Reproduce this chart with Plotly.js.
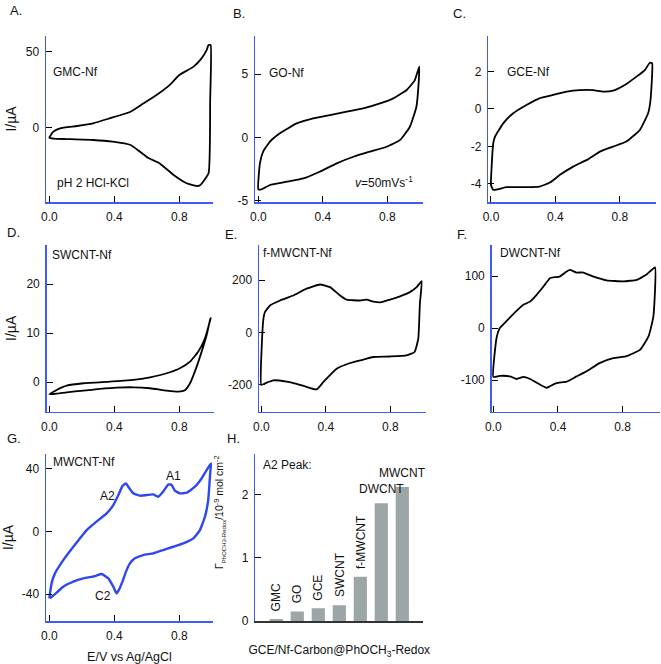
<!DOCTYPE html>
<html>
<head>
<meta charset="utf-8">
<script src="https://cdn.plot.ly/plotly-3.0.1.min.js"></script>
<style>html,body{margin:0;padding:0;background:#fff;}#chart{width:661px;height:664px;}</style>
</head>
<body>
<div id="chart"></div>
<script>
// ---------------- data ----------------
// A. GMC-Nf
const gmcE = [0, 0.025, 0.066, 0.17, 0.27, 0.37, 0.5, 0.58, 0.66, 0.74, 0.80, 0.886, 0.937, 0.968, 0.98, 0.993, 0.99, 0.98, 0.93, 0.907, 0.845, 0.763, 0.68, 0.61, 0.558, 0.5, 0.39, 0.27, 0.107, 0.025, 0];
const gmcI = [-6.6, -2.6, -0.4, 1.1, 2.9, 6.1, 10.5, 16, 21.5, 28, 34.6, 40, 45.6, 51, 54.4, 54.4, 18, -30, -37.7, -38.4, -36.6, -31, -23.5, -20, -15.8, -11.4, -9.2, -8.1, -7.5, -7.2, -6.6];
// B. GO-Nf
const goE = [0, 0.01, 0.03, 0.072, 0.134, 0.238, 0.34, 0.444, 0.548, 0.651, 0.755, 0.837, 0.92, 0.97, 0.998, 0.994, 0.98, 0.94, 0.88, 0.796, 0.69, 0.59, 0.486, 0.38, 0.28, 0.176, 0.072, 0.02, 0];
const goI = [-4.1, -2.05, -1.13, -0.34, 0.32, 1.1, 1.5, 1.76, 2.03, 2.29, 2.68, 3.08, 3.74, 4.5, 5.58, 4.26, 2.4, 0.84, -0.2, -0.74, -1.13, -1.53, -2.05, -2.71, -3.24, -3.5, -3.76, -4.1, -4.1];
// C. GCE-Nf
const gceE = [0, 0.014, 0.097, 0.22, 0.30, 0.366, 0.428, 0.51, 0.595, 0.676, 0.758, 0.84, 0.924, 0.975, 0.99, 1.0, 0.986, 0.955, 0.903, 0.83, 0.758, 0.696, 0.634, 0.55, 0.47, 0.386, 0.30, 0.22, 0.138, 0.076, 0.025, 0.014, 0.004, 0];
const gceI = [-4.06, -4.32, -4.18, -4.18, -4.15, -3.93, -3.52, -3.08, -2.72, -2.28, -2.01, -1.74, -1.12, -0.23, 0.48, 2.44, 2.47, 2.08, 1.73, 1.28, 0.98, 0.93, 1.01, 1.01, 0.93, 0.75, 0.57, 0.21, -0.23, -0.77, -1.48, -1.83, -3.08, -4.06];
// D. SWCNT-Nf
const swE = [0, 0.045, 0.107, 0.21, 0.373, 0.517, 0.62, 0.722, 0.804, 0.866, 0.917, 0.958, 0.993, 0.989, 0.968, 0.938, 0.907, 0.866, 0.835, 0.794, 0.722, 0.62, 0.517, 0.414, 0.31, 0.21, 0.107, 0];
const swI = [-2.45, -1.56, -0.68, -0.2, 0.14, 0.48, 1.02, 1.84, 2.86, 4.2, 6.26, 8.98, 13.06, 12.7, 9.6, 6.3, 3.2, -0.2, -1.6, -1.9, -1.7, -1.22, -1.02, -1.09, -1.36, -1.7, -2.04, -2.45];
// E. f-MWCNT-Nf
const fmwE = [0, 0.012, 0.023, 0.054, 0.116, 0.198, 0.28, 0.364, 0.426, 0.488, 0.529, 0.612, 0.653, 0.694, 0.736, 0.798, 0.86, 0.921, 0.963, 0.994, 0.983, 0.973, 0.95, 0.9, 0.798, 0.694, 0.612, 0.55, 0.467, 0.384, 0.343, 0.28, 0.219, 0.157, 0.074, 0.033, 0];
const fmwI = [-201, 46, 78, 103, 122, 141, 167, 183, 173, 141, 125, 122, 125, 118, 115, 125, 138, 154, 173, 196, 110, -24, -75, -88, -92, -94, -107, -117, -139, -190, -218, -208, -197, -188, -183, -192, -201];
// F. DWCNT-Nf
const dwE = [0, 0.02, 0.04, 0.08, 0.14, 0.186, 0.227, 0.268, 0.31, 0.35, 0.38, 0.41, 0.454, 0.474, 0.515, 0.557, 0.62, 0.7, 0.804, 0.887, 0.948, 1.0, 0.99, 0.96, 0.907, 0.825, 0.742, 0.66, 0.577, 0.515, 0.454, 0.39, 0.35, 0.33, 0.29, 0.227, 0.186, 0.144, 0.103, 0.04, 0];
const dwI = [-94, -19, 0, 13, 32, 45, 51, 64, 80, 96, 98, 99, 109, 112, 107, 107, 99, 92, 90, 93, 103, 117, 22, -16, -42, -54, -58, -67, -83, -93, -103, -106, -112, -115, -109, -98, -94, -98, -93, -92, -94];
// G. MWCNT-Nf
const mwE = [0, 0.014, 0.035, 0.086, 0.148, 0.23, 0.29, 0.353, 0.394, 0.425, 0.45, 0.472, 0.486, 0.517, 0.558, 0.6, 0.64, 0.67, 0.70, 0.733, 0.753, 0.773, 0.804, 0.845, 0.896, 0.937, 0.968, 0.995, 0.99, 0.978, 0.958, 0.927, 0.886, 0.825, 0.763, 0.70, 0.64, 0.578, 0.527, 0.496, 0.472, 0.45, 0.43, 0.414, 0.394, 0.363, 0.322, 0.281, 0.209, 0.148, 0.086, 0.035, 0.004];
const mwI = [-42.8, -33.2, -26.8, -18.3, -9.8, 0.85, 6.2, 11.5, 16.8, 23.2, 28.9, 30.6, 28.5, 24.3, 22.8, 23.2, 23.6, 22.1, 25.3, 30, 29.6, 26, 24.3, 24.7, 28.5, 33.8, 39.1, 43.4, 37, 20, 9.4, 0.85, -4.5, -7.7, -9.8, -11.9, -14, -15.1, -17.2, -20.4, -25.7, -32.1, -37, -39.5, -35.3, -30, -27.2, -28.5, -30, -32.1, -35.3, -40, -42.8];
// H. A2 peak surface coverage
const carbons = ['GMC', 'GO', 'GCE', 'SWCNT', 'f-MWCNT', 'DWCNT', 'MWCNT'];
const a2Coverage = [0.03, 0.15, 0.2, 0.25, 0.7, 1.86, 2.12];
// tick values
const xTicks = [0, 0.4, 0.8];
const yTicksA = [0, 50];
const yTicksB = [-5, 0, 5];
const yTicksC = [-4, -2, 0, 2];
const yTicksD = [0, 10, 20];
const yTicksE = [-200, 0, 200];
const yTicksF = [-100, 0, 100];
const yTicksG = [-40, 0, 40];
const yTicksH = [0, 1, 2];

// ---------------- layout helpers ----------------
const W = 661, H = 664;
const BLUE = '#3d5cf5';
const FONT = 'Liberation Sans, Arial, sans-serif';
const px = x => x / W;
const py = y => 1 - y / H;

const panels = [
  {n: '',  xd: [46, 213],    yd: [36, 202],    xr: [-0.0203, 1.0074], yr: [-48.9, 60.3], yt: yTicksA, E: gmcE, I: gmcI},
  {n: '2', xd: [255, 423.3], yd: [36, 202],    xr: [-0.0205, 1.023],  yr: [-5.1, 8.0],   yt: yTicksB, E: goE, I: goI},
  {n: '3', xd: [488.3, 656], yd: [36, 202],    xr: [-0.0167, 1.024],  yr: [-4.97, 3.9],  yt: yTicksC, E: gceE, I: gceI},
  {n: '4', xd: [46.7, 214],  yd: [245, 411.7], xr: [-0.016, 1.0135],  yr: [-6.0, 28.0],  yt: yTicksD, E: swE, I: swI},
  {n: '5', xd: [259, 425.7], yd: [245, 411.7], xr: [-0.0143, 1.019],  yr: [-303, 334],   yt: yTicksE, E: fmwE, I: fmwI},
  {n: '6', xd: [491.7, 660], yd: [245, 411.7], xr: [-0.01, 1.031],    yr: [-161, 160],   yt: yTicksF, E: dwE, I: dwI},
  {n: '7', xd: [46, 213],    yd: [454, 621],   xr: [-0.0203, 1.0074], yr: [-57.2, 49.4], yt: yTicksG, E: mwE, I: mwI},
];

const layout = {
  width: W, height: H,
  margin: {l: 0, r: 0, t: 0, b: 0},
  paper_bgcolor: '#fff', plot_bgcolor: 'rgba(0,0,0,0)',
  showlegend: false,
  font: {family: FONT, size: 12, color: '#111'},
  annotations: []
};

const baseAxis = {
  showgrid: false, zeroline: false, showline: true, linecolor: BLUE, linewidth: 1.5,
  ticks: 'inside', ticklen: 6, tickwidth: 1, tickcolor: '#000',
  tickfont: {family: FONT, size: 12, color: '#111'}, fixedrange: true
};

const traces = [];
panels.forEach((p, k) => {
  const xa = 'xaxis' + p.n, ya = 'yaxis' + p.n;
  layout[xa] = Object.assign({}, baseAxis, {
    domain: [px(p.xd[0]), px(p.xd[1])], range: p.xr, anchor: 'y' + p.n,
    tickmode: 'array', tickvals: xTicks, ticktext: xTicks.map(v => v.toFixed(1)),
    ticklabelstandoff: 3
  });
  layout[ya] = Object.assign({}, baseAxis, {
    domain: [py(p.yd[1]), py(p.yd[0])], range: p.yr, anchor: 'x' + p.n,
    tickmode: 'array', tickvals: p.yt, ticktext: p.yt.map(v => String(v)),
    ticklabelstandoff: 3
  });
  traces.push({
    type: 'scatter', mode: 'lines', x: p.E, y: p.I,
    xaxis: 'x' + p.n, yaxis: 'y' + p.n,
    line: {color: k === 6 ? '#2f48ee' : '#000', width: k === 6 ? 2.4 : 1.8, shape: 'spline', smoothing: 0.4},
    hoverinfo: 'skip'
  });
});

// y-axis titles on the left column
['yaxis', 'yaxis4', 'yaxis7'].forEach(a => {
  layout[a].title = {text: 'I/µA', font: {family: FONT, size: 14, color: '#111'}, standoff: 6};
});
layout.xaxis7.title = {text: 'E/V vs Ag/AgCl', font: {family: FONT, size: 12.5, color: '#111'}, standoff: 10};

// H. bar panel
layout.xaxis8 = Object.assign({}, baseAxis, {
  domain: [px(255.3), px(423.3)], anchor: 'y8', type: 'category', range: [-1, 7],
  linecolor: '#333', ticks: '', showticklabels: false,
  title: {text: 'GCE/Nf-Carbon@PhOCH<sub>3</sub>-Redox', font: {family: FONT, size: 12, color: '#111'}, standoff: 24}
});
layout.yaxis8 = Object.assign({}, baseAxis, {
  domain: [py(621), py(454)], range: [0, 2.64], anchor: 'x8',
  tickmode: 'array', tickvals: yTicksH, ticktext: yTicksH.map(v => String(v)),
  ticklabelstandoff: 3
});
traces.push({
  type: 'bar', x: carbons, y: a2Coverage, xaxis: 'x8', yaxis: 'y8',
  width: 0.63, marker: {color: '#9da6a6', line: {width: 0}}, hoverinfo: 'skip'
});

const A = layout.annotations;
function txt(text, x, y, xanchor, size, extra) {
  A.push(Object.assign({
    text, x: px(x), y: py(y), xref: 'paper', yref: 'paper', xanchor: xanchor || 'left', yanchor: 'middle',
    showarrow: false, font: {family: FONT, size: size || 12, color: '#111'}
  }, extra || {}));
}
// panel letters
txt('A.', 8, 11, 'left', 13);
txt('B.', 231, 13, 'left', 13);
txt('C.', 451, 13, 'left', 13);
txt('D.', 5, 233, 'left', 13);
txt('E.', 223, 235, 'left', 13);
txt('F.', 455, 235, 'left', 13);
txt('G.', 5, 438, 'left', 13);
txt('H.', 225, 438, 'left', 13);
// in-panel labels
txt('GMC-Nf', 51, 72);
txt('pH 2 HCl-KCl', 55, 183);
txt('GO-Nf', 267, 73);
txt('<i>v</i>=50mVs<sup>-1</sup>', 415, 182, 'right');
txt('GCE-Nf', 505, 72);
txt('SWCNT-Nf', 50, 255);
txt('f-MWCNT-Nf', 261, 253);
txt('DWCNT-Nf', 498, 253);
txt('MWCNT-Nf', 51, 462);
txt('A2', 98, 496);
txt('A1', 164, 476);
txt('C2', 93, 596);
txt('A2 Peak:', 261, 465);
// H y title
A.push({
  text: 'Γ<sub><span style="font-size:6px">PhOCH3-Redox</span></sub>/10<sup>-9</sup> mol cm<sup>-2</sup>',
  x: px(219), y: py(512), xref: 'paper', yref: 'paper', xanchor: 'center', yanchor: 'middle',
  textangle: -90, showarrow: false, font: {family: FONT, size: 10.5, color: '#111'}
});
// bar labels
carbons.forEach((c, i) => {
  const rot = i < 5;
  A.push({
    text: c, x: c, y: a2Coverage[i], xref: 'x8', yref: 'y8',
    xanchor: 'center', yanchor: 'bottom', yshift: rot ? 6 : 5,
    textangle: rot ? -90 : 0, showarrow: false, font: {family: FONT, size: 12, color: '#111'}
  });
});

Plotly.newPlot('chart', traces, layout, {displayModeBar: false, staticPlot: true});
</script>
</body>
</html>
